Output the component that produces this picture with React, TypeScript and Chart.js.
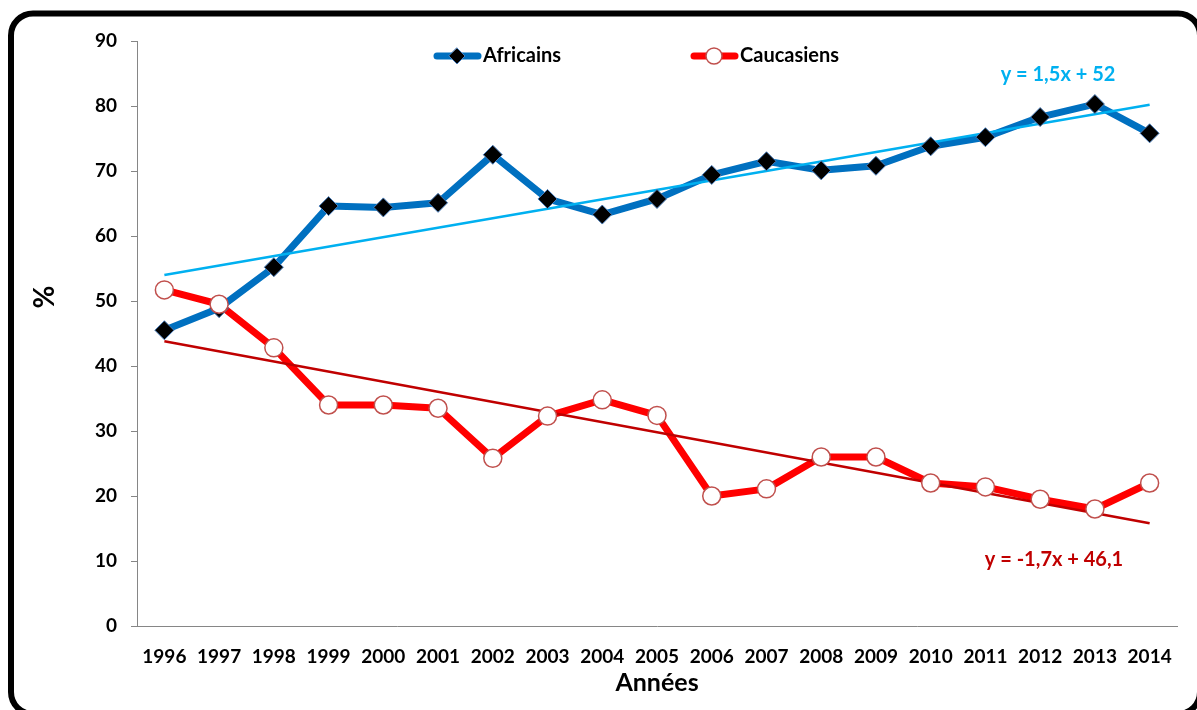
import React, { useEffect, useRef } from 'react';
import { Chart, registerables } from 'chart.js';

Chart.register(...registerables);

const years = ['1996', '1997', '1998', '1999', '2000', '2001', '2002', '2003', '2004', '2005', '2006', '2007', '2008', '2009', '2010', '2011', '2012', '2013', '2014'];
const africains = [45.5, 48.9, 55.2, 64.6, 64.4, 65.1, 72.5, 65.7, 63.3, 65.7, 69.4, 71.5, 70.1, 70.8, 73.8, 75.2, 78.3, 80.3, 75.8];
const caucasiens = [51.7, 49.5, 42.8, 34.0, 34.0, 33.5, 25.8, 32.3, 34.8, 32.4, 20.0, 21.1, 26.0, 26.0, 22.0, 21.4, 19.5, 18.0, 22.0];
// trend line values at first and last year
const trendAfricains = [54.0, 80.2];
const trendCaucasiens = [43.8, 15.8];
const yTicks = [0, 10, 20, 30, 40, 50, 60, 70, 80, 90];
const seriesNames = ['Africains', 'Caucasiens'];
const equations = ['y = 1,5x + 52', 'y = -1,7x + 46,1'];
const yTitle = '%';
const xTitle = 'Années';

const FONT = 'Lato, "Open Sans", sans-serif';
const BLUE = '#0070C0';
const RED = '#FF0000';
const CYAN = '#00B0F0';
const DARKRED = '#C00000';
const MARKER_BLUE = '#4A7EBB';
const MARKER_RED = '#C0504D';

function endpoints(vals: number[]) {
  return years.map((_, i) => (i === 0 ? vals[0] : i === years.length - 1 ? vals[1] : null));
}

function drawDiamond(ctx: CanvasRenderingContext2D, x: number, y: number, r: number) {
  ctx.beginPath();
  ctx.moveTo(x, y - r);
  ctx.lineTo(x + r, y);
  ctx.lineTo(x, y + r);
  ctx.lineTo(x - r, y);
  ctx.closePath();
  ctx.fillStyle = '#000';
  ctx.fill();
  ctx.lineWidth = 1;
  ctx.strokeStyle = MARKER_BLUE;
  ctx.stroke();
}

export default function App() {
  const ref = useRef<HTMLCanvasElement>(null);

  useEffect(() => {
    if (!ref.current) return;

    const decor = {
      id: 'decor',
      beforeDraw(chart: any) {
        const ctx = chart.ctx as CanvasRenderingContext2D;
        ctx.save();
        ctx.fillStyle = '#fff';
        ctx.fillRect(0, 0, chart.width, chart.height);
        ctx.restore();
      },
      afterDraw(chart: any) {
        const ctx = chart.ctx as CanvasRenderingContext2D;
        ctx.save();
        // rounded frame
        const x0 = 11, y0 = 13.5, x1 = 1200, y1 = 714, r = 22;
        ctx.beginPath();
        ctx.moveTo(x0 + r, y0);
        ctx.lineTo(x1 - r, y0);
        ctx.arc(x1 - r, y0 + r, r, -Math.PI / 2, 0);
        ctx.lineTo(x1, y1 - r);
        ctx.arc(x1 - r, y1 - r, r, 0, Math.PI / 2);
        ctx.lineTo(x0 + r, y1);
        ctx.arc(x0 + r, y1 - r, r, Math.PI / 2, Math.PI);
        ctx.lineTo(x0, y0 + r);
        ctx.arc(x0 + r, y0 + r, r, Math.PI, Math.PI * 1.5);
        ctx.closePath();
        ctx.lineWidth = 6;
        ctx.strokeStyle = '#000';
        ctx.stroke();

        // legend
        const ly = 56;
        ctx.lineCap = 'round';
        ctx.lineWidth = 7;
        ctx.strokeStyle = BLUE;
        ctx.beginPath();
        ctx.moveTo(437, ly);
        ctx.lineTo(478, ly);
        ctx.stroke();
        drawDiamond(ctx, 457, ly, 8);
        ctx.strokeStyle = RED;
        ctx.lineWidth = 7;
        ctx.beginPath();
        ctx.moveTo(694, ly);
        ctx.lineTo(735, ly);
        ctx.stroke();
        ctx.beginPath();
        ctx.arc(714, ly, 8, 0, Math.PI * 2);
        ctx.fillStyle = '#fff';
        ctx.fill();
        ctx.lineWidth = 1.5;
        ctx.strokeStyle = MARKER_RED;
        ctx.stroke();

        ctx.fillStyle = '#000';
        ctx.font = `bold 20px ${FONT}`;
        ctx.textAlign = 'left';
        ctx.textBaseline = 'middle';
        ctx.fillText(seriesNames[0], 483, ly);
        ctx.fillText(seriesNames[1], 740, ly);

        // trend equations
        ctx.textAlign = 'center';
        ctx.font = `bold 20px ${FONT}`;
        ctx.fillStyle = CYAN;
        ctx.fillText(equations[0], 1058, 75);
        ctx.fillStyle = DARKRED;
        ctx.fillText(equations[1], 1054, 560);

        // y axis title
        ctx.save();
        ctx.translate(45, 297);
        ctx.rotate(-Math.PI / 2);
        ctx.fillStyle = '#000';
        ctx.font = `bold 28px ${FONT}`;
        ctx.textAlign = 'center';
        ctx.textBaseline = 'middle';
        ctx.fillText(yTitle, 0, 0);
        ctx.restore();
        ctx.restore();
      },
    };

    const chart = new Chart(ref.current, {
      type: 'line',
      data: {
        labels: years,
        datasets: [
          {
            label: 'Africains-line',
            data: africains,
            borderColor: BLUE,
            borderWidth: 7,
            pointRadius: 0,
            borderJoinStyle: 'round',
            borderCapStyle: 'round',
            tension: 0,
            order: 6,
          },
          {
            label: 'Caucasiens-line',
            data: caucasiens,
            borderColor: RED,
            borderWidth: 7,
            pointRadius: 0,
            borderJoinStyle: 'round',
            borderCapStyle: 'round',
            tension: 0,
            order: 5,
          },
          {
            label: 'Tendance Africains',
            data: endpoints(trendAfricains),
            borderColor: CYAN,
            borderWidth: 2.5,
            pointRadius: 0,
            spanGaps: true,
            order: 4,
          },
          {
            label: 'Tendance Caucasiens',
            data: endpoints(trendCaucasiens),
            borderColor: DARKRED,
            borderWidth: 2.5,
            pointRadius: 0,
            spanGaps: true,
            order: 3,
          },
          {
            label: 'Africains',
            data: africains,
            showLine: false,
            pointStyle: 'rectRot',
            pointRadius: 9.5,
            pointBackgroundColor: '#000',
            pointBorderColor: MARKER_BLUE,
            pointBorderWidth: 1,
            order: 2,
          },
          {
            label: 'Caucasiens',
            data: caucasiens,
            showLine: false,
            pointStyle: 'circle',
            pointRadius: 9,
            pointBackgroundColor: '#fff',
            pointBorderColor: MARKER_RED,
            pointBorderWidth: 1.5,
            order: 1,
          },
        ],
      },
      options: {
        responsive: false,
        animation: false,
        layout: { padding: { left: 0, top: 41, right: 20, bottom: 0 } },
        plugins: {
          legend: { display: false },
          tooltip: { enabled: false },
        },
        scales: {
          x: {
            offset: true,
            grid: { display: false },
            border: { display: true, color: '#868686', width: 1 },
            ticks: {
              color: '#000',
              font: { family: FONT, size: 19, weight: 'bold' },
              padding: 11,
              maxRotation: 0,
              autoSkip: false,
            },
            title: {
              display: true,
              text: xTitle,
              color: '#000',
              font: { family: FONT, size: 25, weight: 'bold' },
              padding: { top: 0, bottom: 12 },
            },
            afterFit(scale: any) {
              scale.height = 84;
            },
          },
          y: {
            min: 0,
            max: 90,
            afterBuildTicks(scale: any) {
              scale.ticks = yTicks.map((v) => ({ value: v }));
            },
            grid: {
              display: true,
              drawOnChartArea: false,
              drawTicks: true,
              tickLength: 6,
              color: '#868686',
            },
            border: { display: true, color: '#868686', width: 1 },
            ticks: {
              color: '#000',
              font: { family: FONT, size: 19, weight: 'bold' },
              padding: 14,
            },
            afterFit(scale: any) {
              scale.width = 137;
            },
          },
        },
      },
      plugins: [decor],
    } as any);

    return () => chart.destroy();
  }, []);

  return (
    <div style={{ position: 'fixed', left: 0, top: 0, width: 1197, height: 710, background: '#fff' }}>
      <canvas ref={ref} width={1197} height={710} style={{ display: 'block' }} />
    </div>
  );
}
